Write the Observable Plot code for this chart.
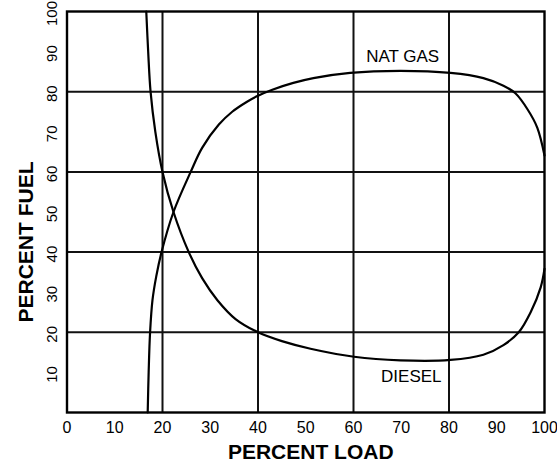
<!DOCTYPE html>
<html><head><meta charset="utf-8">
<script src="https://cdn.jsdelivr.net/npm/d3@7"></script>
<script src="https://cdn.jsdelivr.net/npm/@observablehq/plot@0.6"></script>
<style>body{margin:0;background:#fff} svg{display:block}</style>
</head><body><div id="chart"></div>
<script>
const natGasLoad = [16.9, 17.1, 17.4, 17.9, 18.7, 19.8, 22.3, 25.9, 28.3, 31.8, 34.6, 37.7, 40, 43, 47.4, 51.6, 59.3, 69.8, 80.3, 87.2, 91.4, 93.9, 96.5, 98.5, 100];
const natGasFuel = [0, 10, 20, 28, 34, 40, 50, 60, 66, 71.8, 75, 77.5, 79, 80.5, 82.2, 83.4, 84.7, 85.2, 84.7, 83.4, 81.5, 79.6, 75.5, 71, 64.1];
const dieselLoad = [16.6, 17.0, 17.5, 18.5, 20.0, 22.3, 25.5, 28.3, 31.5, 35.3, 40, 45, 51, 60.1, 69.8, 80.3, 87.2, 91.4, 94.6, 97.1, 99.2, 100];
const dieselFuel = [100, 90, 80, 70, 60, 50, 40, 33.5, 28, 23.3, 20, 17.8, 15.9, 13.9, 13.0, 13.1, 14.4, 16.8, 20, 25, 31.2, 35.8];
const xTicks = [0, 10, 20, 30, 40, 50, 60, 70, 80, 90, 100];
const yTicks = [10, 20, 30, 40, 50, 60, 70, 80, 90, 100];
const gridLines = [20, 40, 60, 80];
const curveNames = ["NAT GAS", "DIESEL"];
const curveNameLoad = [70.3, 72.1];
const curveNameFuel = [87.5, 7.5];
const xTitle = "PERCENT LOAD";
const yTitle = "PERCENT FUEL";

const natGas = natGasLoad.map((x, i) => ({load: x, fuel: natGasFuel[i]}));
const diesel = dieselLoad.map((x, i) => ({load: x, fuel: dieselFuel[i]}));
const names = curveNames.map((t, i) => ({text: t, load: curveNameLoad[i], fuel: curveNameFuel[i]}));

const chart = Plot.plot({
  width: 557, height: 462,
  marginLeft: 66.5, marginRight: 13, marginTop: 11, marginBottom: 50,
  x: {domain: [0, 100], axis: null},
  y: {domain: [0, 100], axis: null},
  style: {fontFamily: "'Liberation Sans', Arial, sans-serif", background: "#fff", color: "#000"},
  marks: [
    Plot.ruleX(gridLines, {stroke: "#111", strokeWidth: 2}),
    Plot.ruleY(gridLines, {stroke: "#111", strokeWidth: 2}),
    Plot.line(natGas, {x: "load", y: "fuel", curve: "catmull-rom", stroke: "#000", strokeWidth: 2.2}),
    Plot.line(diesel, {x: "load", y: "fuel", curve: "catmull-rom", stroke: "#000", strokeWidth: 2.2}),
    Plot.frame({stroke: "#000", strokeWidth: 2.4}),
    Plot.text(xTicks, {x: d => d, text: d => String(d), frameAnchor: "bottom", dy: 9, lineAnchor: "top", fontSize: 16, fill: "#000"}),
    Plot.text(yTicks, {y: d => d, text: d => String(d), frameAnchor: "left", rotate: -90, dx: -14.5, dy: 2, lineAnchor: "middle", textAnchor: "middle", fontSize: 15, fill: "#000"}),
    Plot.text(names, {x: "load", y: "fuel", text: "text", lineAnchor: "bottom", fontSize: 17, fill: "#000"}),
    Plot.text([xTitle], {text: d => d, frameAnchor: "bottom", textAnchor: "middle", dx: 5, dy: 46, lineAnchor: "bottom", fontSize: 21, fontWeight: "bold", fill: "#000"}),
    Plot.text([yTitle], {text: d => d, frameAnchor: "left", rotate: -90, textAnchor: "middle", dx: -34.5, dy: 30, lineAnchor: "bottom", fontSize: 21, fontWeight: "bold", fill: "#000"})
  ]
});
document.getElementById("chart").appendChild(chart);
</script>
</body></html>
